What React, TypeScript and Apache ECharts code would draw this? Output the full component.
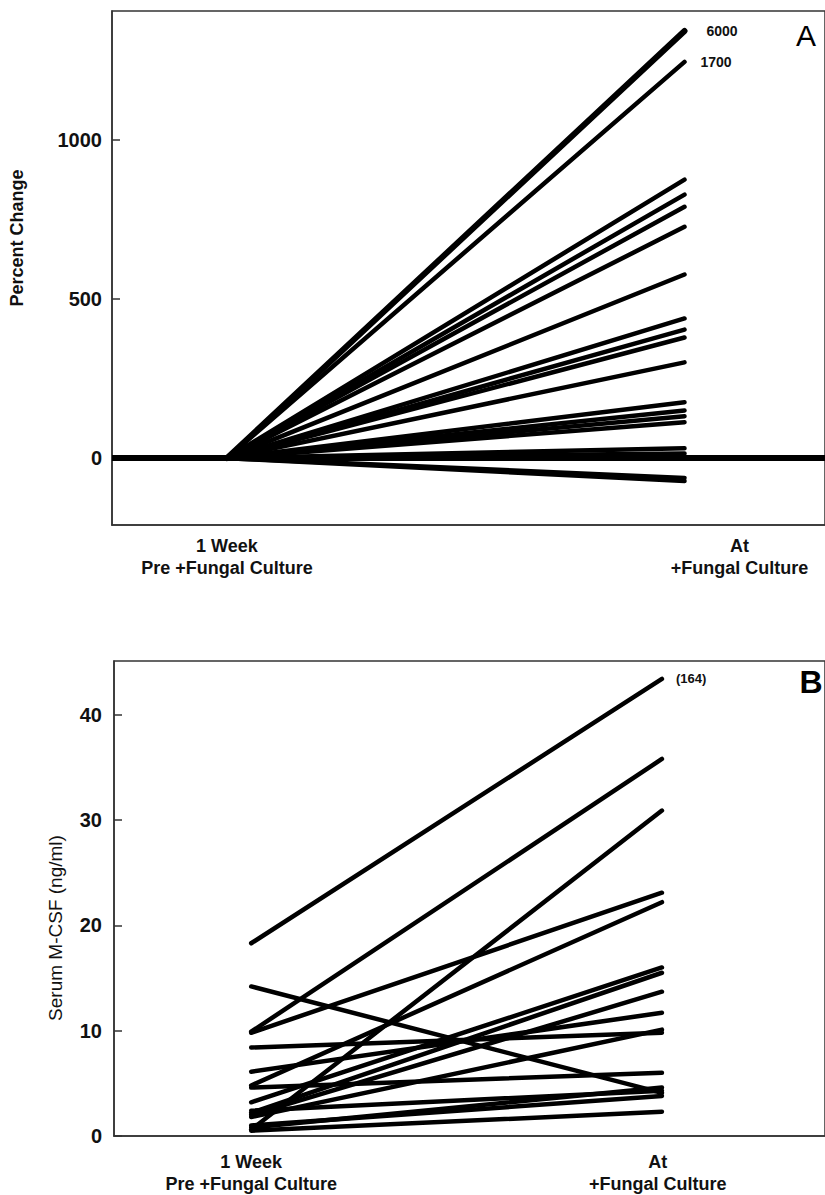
import React, { useEffect, useRef } from "react";
import * as echarts from "echarts";

const FONT = "'Liberation Sans', Arial, Helvetica, sans-serif";

// Time points (x-axis categories)
const timepoints = ["1 Week\nPre +Fungal Culture", "At\n+Fungal Culture"];

// Panel A: percent change at +fungal culture (0 % at 1 week pre)
const aPre = [0, 0, 0, 0, 0, 0, 0, 0, 0, 0, 0, 0, 0, 0, 0, 0, 0, 0, 0, 0];
const aAt = [1342, 1245, 875, 828, 790, 727, 577, 439, 404, 379, 301, 176, 150, 132, 113, 31, 15, 5, -62, -72];
const aOffScale = ["6000", "1700"]; // true values of the two clipped lines
const aYTicks = [0, 500, 1000];

// Panel B: serum M-CSF (ng/ml)
const bPre = [18.3, 14.2, 9.9, 9.8, 0.6, 4.8, 8.4, 6.1, 3.2, 2.2, 4.6, 2.0, 1.8, 0.8, 2.4, 1.0, 0.5];
const bAt = [43.4, 4.1, 35.8, 23.1, 30.9, 22.2, 9.8, 11.7, 16.0, 15.5, 6.0, 13.7, 10.1, 4.6, 4.3, 3.8, 2.3];
const bOffScale = "(164)";
const bYTicks = [0, 10, 20, 30, 40];

export default function App() {
  const ref = useRef<HTMLDivElement>(null);

  useEffect(() => {
    if (!ref.current) return;
    const chart = echarts.init(ref.current, null, { renderer: "svg" });

    const tickLabel = {
      fontFamily: FONT,
      fontSize: 20,
      fontWeight: "bold" as const,
      color: "#111",
      formatter: (v: number) => String(v),
    };
    const catLabel = {
      fontFamily: FONT,
      fontSize: 18,
      fontWeight: "bold" as const,
      color: "#111",
      lineHeight: 22,
      formatter: (v: number) => (v < 0.5 ? timepoints[0] : timepoints[1]),
    };

    const lineA = aAt.map((end, i) => ({
      type: "line",
      xAxisIndex: 0,
      yAxisIndex: 0,
      data: [
        [0, aPre[i]],
        [1, end],
      ],
      symbol: "none",
      lineStyle: { color: "#000", width: i === 0 ? 6 : 4.5, cap: "round" },
      endLabel:
        i < aOffScale.length
          ? {
              show: true,
              formatter: aOffScale[i],
              distance: i === 0 ? 22 : 16,
              fontFamily: FONT,
              fontSize: 14,
              fontWeight: "bold",
              color: "#111",
            }
          : { show: false },
      z: 3,
    }));

    const baselineA = {
      type: "line",
      xAxisIndex: 0,
      yAxisIndex: 0,
      data: [],
      markLine: {
        silent: true,
        symbol: "none",
        label: { show: false },
        lineStyle: { color: "#000", width: 6, type: "solid" },
        data: [{ yAxis: 0 }],
      },
      z: 2,
    };

    const lineB = bAt.map((end, i) => ({
      type: "line",
      xAxisIndex: 1,
      yAxisIndex: 1,
      data: [
        [0, bPre[i]],
        [1, end],
      ],
      symbol: "none",
      lineStyle: { color: "#000", width: 4.5, cap: "round" },
      endLabel:
        i === 0
          ? {
              show: true,
              formatter: bOffScale,
              distance: 14,
              fontFamily: FONT,
              fontSize: 13,
              fontWeight: "bold",
              color: "#111",
            }
          : { show: false },
      z: 3,
    }));

    const axisLineStyle = { color: "#333", width: 1.5 };

    const option = {
      animation: false,
      textStyle: { fontFamily: FONT },
      grid: [
        { left: 112, top: 11, width: 720, height: 514, show: true, borderColor: "#333", borderWidth: 1.5, backgroundColor: "transparent" },
        { left: 114, top: 661, width: 720, height: 476, show: true, borderColor: "#333", borderWidth: 1.5, backgroundColor: "transparent" },
      ],
      xAxis: [
        {
          gridIndex: 0,
          type: "value",
          min: -0.2511,
          max: 1.307,
          splitLine: { show: false },
          axisTick: { show: false },
          axisLine: { show: true, onZero: false, lineStyle: axisLineStyle },
          axisLabel: { ...catLabel, margin: 10, customValues: [0, 1.12] },
        },
        {
          gridIndex: 1,
          type: "value",
          min: -0.334,
          max: 1.397,
          splitLine: { show: false },
          axisTick: { show: false },
          axisLine: { show: true, onZero: false, lineStyle: axisLineStyle },
          axisLabel: { ...catLabel, margin: 15, customValues: [0, 0.99] },
        },
      ],
      yAxis: [
        {
          gridIndex: 0,
          type: "value",
          min: -210,
          max: 1405,
          splitLine: { show: false },
          axisLine: { show: true, onZero: false, lineStyle: axisLineStyle },
          axisTick: { show: true, inside: true, length: 8, customValues: aYTicks, lineStyle: axisLineStyle },
          axisLabel: { ...tickLabel, margin: 10, customValues: aYTicks },
        },
        {
          gridIndex: 1,
          type: "value",
          min: 0,
          max: 45.1,
          splitLine: { show: false },
          axisLine: { show: true, onZero: false, lineStyle: axisLineStyle },
          axisTick: { show: true, inside: true, length: 8, customValues: bYTicks, lineStyle: axisLineStyle },
          axisLabel: { ...tickLabel, margin: 12, customValues: bYTicks },
        },
      ],
      graphic: [
        {
          type: "text",
          x: 17,
          y: 238,
          rotation: Math.PI / 2,
          style: { text: "Percent Change", fontFamily: FONT, fontSize: 18, fontWeight: "bold", fill: "#111", textAlign: "center", textVerticalAlign: "middle" },
        },
        {
          type: "text",
          x: 55,
          y: 928,
          rotation: Math.PI / 2,
          style: { text: "Serum M-CSF (ng/ml)", fontFamily: FONT, fontSize: 19, fontWeight: "normal", fill: "#111", textAlign: "center", textVerticalAlign: "middle" },
        },
        {
          type: "text",
          x: 806,
          y: 35,
          style: { text: "A", fontFamily: FONT, fontSize: 30, fill: "#000", textAlign: "center", textVerticalAlign: "middle" },
        },
        {
          type: "text",
          x: 811,
          y: 682,
          style: { text: "B", fontFamily: FONT, fontSize: 32, fontWeight: "bold", fill: "#000", textAlign: "center", textVerticalAlign: "middle" },
        },
      ],
      series: [baselineA, ...lineA, ...lineB],
    };

    chart.setOption(option as any);
    return () => chart.dispose();
  }, []);

  return (
    <div
      ref={ref}
      style={{ position: "absolute", left: 0, top: 0, width: 825, height: 1195, background: "#fff" }}
    />
  );
}
